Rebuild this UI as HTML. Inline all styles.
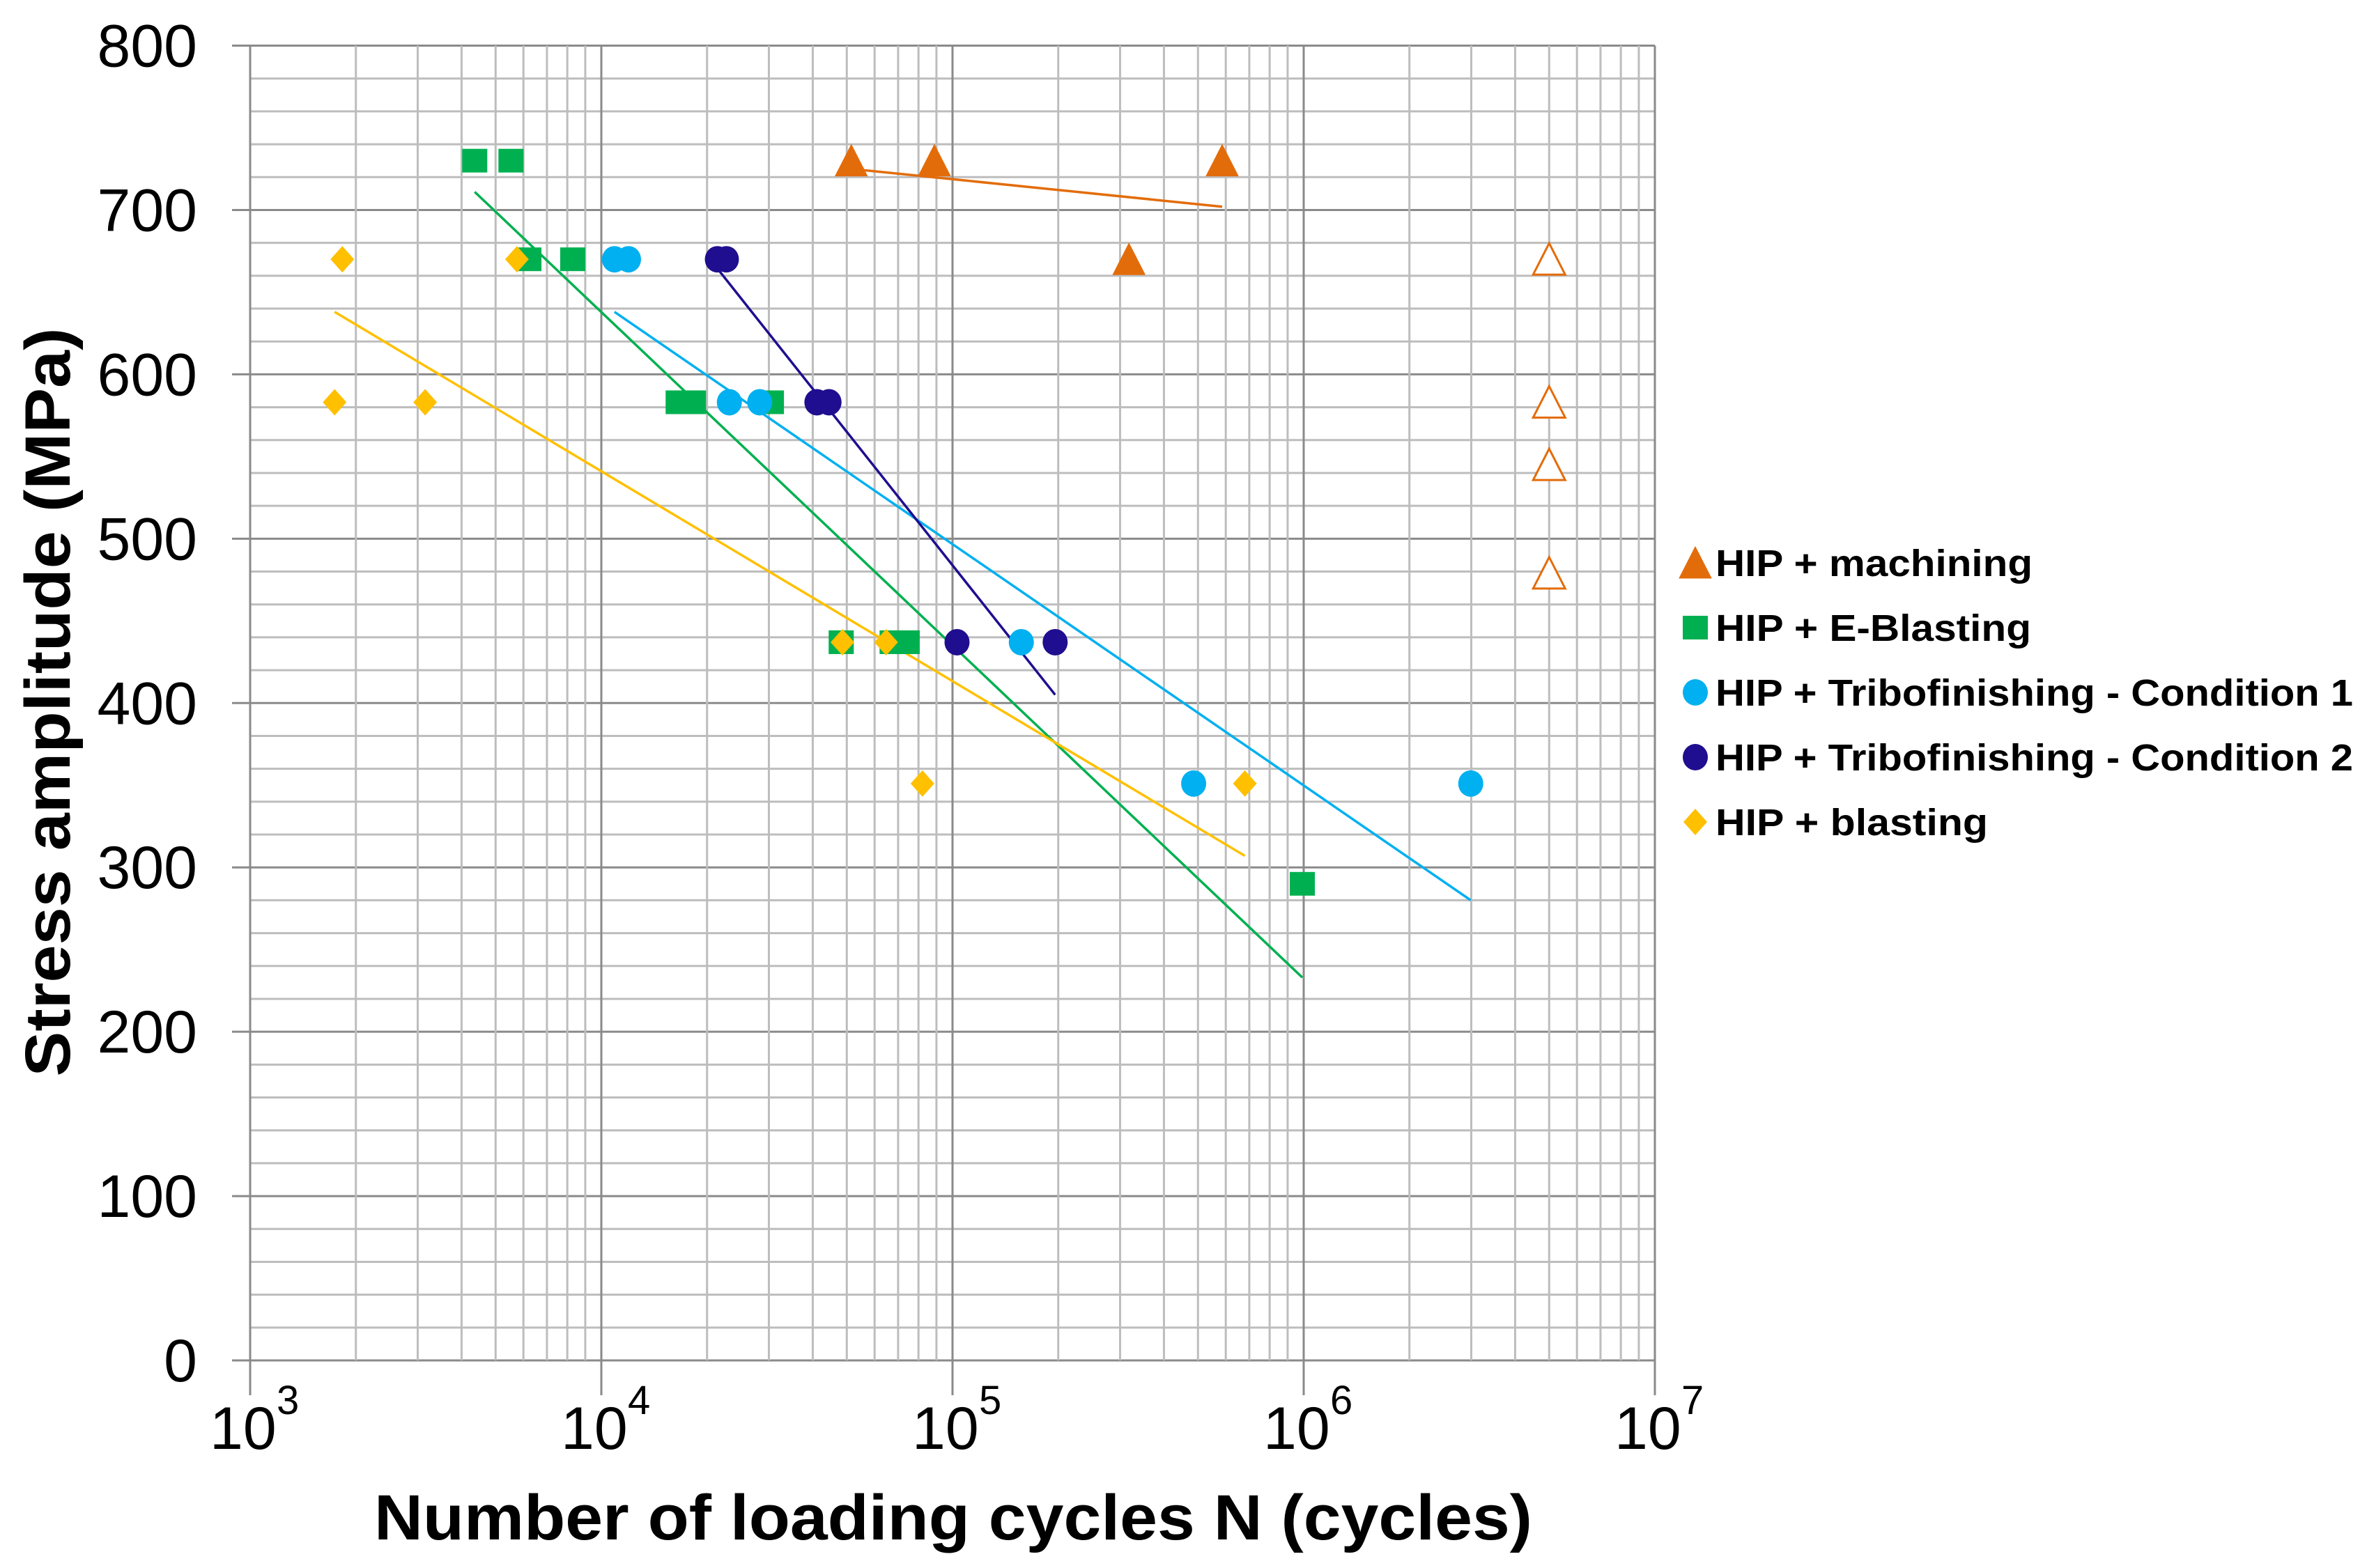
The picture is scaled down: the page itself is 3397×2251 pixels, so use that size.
<!DOCTYPE html>
<html><head><meta charset="utf-8"><style>
html,body{margin:0;padding:0;background:#fff;}
svg{display:block;}
</style></head><body>
<svg id="chart" width="3397" height="2251" viewBox="0 0 3397 2251" xmlns="http://www.w3.org/2000/svg">
<g id="grid"></g>
<g id="trends"></g>
<g id="marks"></g>
<g id="axes"></g>
<text x="0" y="0" transform="translate(100,1008) rotate(-90)" text-anchor="middle" font-family="Liberation Sans, sans-serif" font-weight="bold" font-size="92" fill="#000" textLength="1075" lengthAdjust="spacingAndGlyphs">Stress amplitude (MPa)</text>
<text x="1368" y="2210" text-anchor="middle" font-family="Liberation Sans, sans-serif" font-weight="bold" font-size="92" fill="#000" textLength="1662" lengthAdjust="spacingAndGlyphs">Number of loading cycles N (cycles)</text>
<g id="legend"></g>
</svg>
<script>
// ---- data ----
const seriesNames = ["HIP + machining","HIP + E-Blasting","HIP + Tribofinishing - Condition 1","HIP + Tribofinishing - Condition 2","HIP + blasting"];
const machiningN = [51500, 88800, 586000, 318000];
const machiningS = [730, 730, 730, 670];
const runoutN = [5000000, 5000000, 5000000, 5000000];
const runoutS = [670, 583, 545, 479];
const eblastN = [4360, 5530, 6220, 8290, 16550, 18300, 30500, 48200, 67300, 74300, 991000];
const eblastS = [730, 730, 670, 670, 583, 583, 583, 437, 437, 437, 290];
const tribo1N = [10900, 11950, 23150, 28250, 157000, 486000, 2990000];
const tribo1S = [670, 670, 583, 583, 437, 351, 351];
const tribo2N = [21400, 22700, 41100, 44500, 103000, 196000];
const tribo2S = [670, 670, 583, 583, 437, 437];
const blastN = [1830, 1740, 3150, 5750, 48600, 64700, 82100, 680000];
const blastS = [670, 583, 583, 670, 437, 437, 351, 351];
// trend line endpoints [N1, S1, N2, S2]
const trendMachining = [51500, 725, 586000, 702];
const trendEblast = [4360, 711, 991000, 233];
const trendTribo1 = [10900, 638, 2990000, 280];
const trendTribo2 = [20400, 670, 196000, 405];
const trendBlast = [1740, 638, 680000, 307];
const yTicks = [0,100,200,300,400,500,600,700,800];
const xDecades = [3,4,5,6,7];

// ---- axes ----
const X0=359, X1=2375, Y0=1953, Y1=65.5;
const xs = n => X0 + (Math.log10(n)-3)/4*(X1-X0);
const ys = v => Y0 - v/800*(Y0-Y1);
const NS="http://www.w3.org/2000/svg";
function mk(tag, attrs, parent){const e=document.createElementNS(NS,tag);for(const k in attrs)e.setAttribute(k,attrs[k]);parent.appendChild(e);return e;}
const grid=document.getElementById('grid'), axes=document.getElementById('axes');
// horizontal grid every 20
for(let v=0; v<=800; v+=20){
  const major = v%100===0;
  const l=mk('line',{x1:major?333:X0,x2:X1,y1:ys(v),y2:ys(v),stroke:major?'#8a8a8a':'#bdbdbd','stroke-width':3},grid);
  
  
}
// vertical grid
for(let d=3; d<=7; d++){
  for(let m=1; m<=9; m++){
    if(d===7 && m>1) break;
    const n=m*Math.pow(10,d);
    const major=m===1;
    const l=mk('line',{x1:xs(n),x2:xs(n),y1:Y1,y2:major?Y0+50:Y0,stroke:major?'#8a8a8a':'#bdbdbd','stroke-width':3},grid);
    
    
  }
}
// y tick labels
yTicks.forEach(v=>{
  const t=mk('text',{x:283,y:ys(v)+30,'text-anchor':'end','font-family':'Liberation Sans, sans-serif','font-size':86,fill:'#000'},axes);
  t.textContent=v;
  
  
});
// x tick labels
xDecades.forEach(d=>{
  const x=xs(Math.pow(10,d));
  const t=mk('text',{x:x-58,y:2080,'font-family':'Liberation Sans, sans-serif','font-size':86,fill:'#000'},axes);
  t.textContent='10';
  
  
  const s=mk('text',{x:x+38,y:2030,'font-family':'Liberation Sans, sans-serif','font-size':58,fill:'#000'},axes);
  s.textContent=String(d);
  
  
});

// ---- trends ----
const trends=document.getElementById('trends');
[[trendMachining,'#E36C0A','trend-machining'],[trendEblast,'#00B050','trend-e-blasting'],[trendTribo1,'#00B0F0','trend-tribo-c1'],[trendTribo2,'#1F0E8F','trend-tribo-c2'],[trendBlast,'#FFC000','trend-blasting']].forEach(([t,c,nm])=>{
  const l=mk('line',{x1:xs(t[0]),y1:ys(t[1]),x2:xs(t[2]),y2:ys(t[3]),stroke:c,'stroke-width':3.5},trends);
  
  
});

// ---- markers ----
const marks=document.getElementById('marks');
function marker(shape,cx,cy,c,parent,open){
  let e;
  if(shape==='tri') e=mk('polygon',{points:`${cx},${cy-23} ${cx-23},${cy+22} ${cx+23},${cy+22}`,fill:open?'#fff':c,stroke:c,'stroke-width':open?3:1},parent);
  else if(shape==='sq') e=mk('rect',{x:cx-18,y:cy-17,width:36,height:34,fill:c},parent);
  else if(shape==='circ') e=mk('ellipse',{cx:cx,cy:cy,rx:18,ry:19,fill:c},parent);
  else e=mk('polygon',{points:`${cx},${cy-19} ${cx+17},${cy} ${cx},${cy+19} ${cx-17},${cy}`,fill:c},parent);
  return e;
}
machiningN.forEach((n,i)=>{const e=marker('tri',xs(n),ys(machiningS[i]),'#E36C0A',marks);
  
  });
runoutN.forEach((n,i)=>{const e=marker('tri',xs(n),ys(runoutS[i]),'#E36C0A',marks,true);
  
  });
eblastN.forEach((n,i)=>{const e=marker('sq',xs(n),ys(eblastS[i]),'#00B050',marks);
  
  });
tribo1N.forEach((n,i)=>{const e=marker('circ',xs(n),ys(tribo1S[i]),'#00B0F0',marks);
  
  });
tribo2N.forEach((n,i)=>{const e=marker('circ',xs(n),ys(tribo2S[i]),'#1F0E8F',marks);
  
  });
blastN.forEach((n,i)=>{const e=marker('dia',xs(n),ys(blastS[i]),'#FFC000',marks);
  
  });

// ---- legend ----
const legend=document.getElementById('legend');
const legShapes=['tri','sq','circ','circ','dia'];
const legColors=['#E36C0A','#00B050','#00B0F0','#1F0E8F','#FFC000'];
const legWidths=[455,453,915,915,391];
seriesNames.forEach((nm,i)=>{
  const cy=808+i*93;
  const g=mk('g',{},legend);
  
  
  const m=marker(legShapes[i],2433,cy,legColors[i],g);
  
  
  const t=mk('text',{x:2462,y:cy+19,'font-family':'Liberation Sans, sans-serif','font-weight':'bold','font-size':54,fill:'#000',textLength:legWidths[i],lengthAdjust:'spacingAndGlyphs'},g);
  t.textContent=nm;
  
  
});
</script>
</body></html>
